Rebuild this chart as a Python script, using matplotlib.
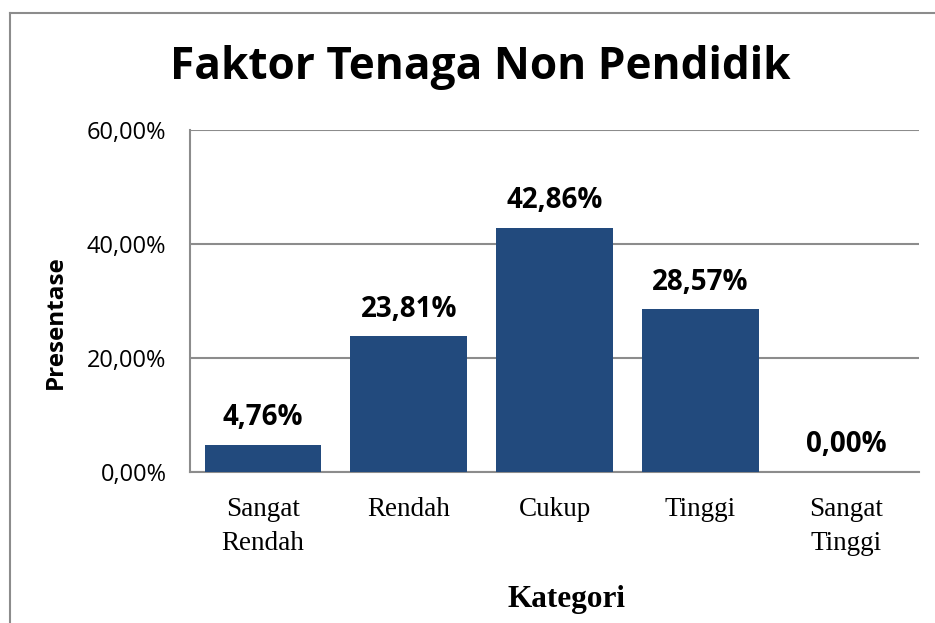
import matplotlib
matplotlib.use("Agg")
import matplotlib.pyplot as plt
from matplotlib.lines import Line2D

categories = ["Sangat\nRendah", "Rendah", "Cukup", "Tinggi", "Sangat\nTinggi"]
values = [4.76, 23.81, 42.86, 28.57, 0.00]
labels = ["4,76%", "23,81%", "42,86%", "28,57%", "0,00%"]
yticks = [0, 20, 40, 60]
ytick_labels = ["0,00%", "20,00%", "40,00%", "60,00%"]

W, H = 935, 623
fig = plt.figure(figsize=(W / 100, H / 100), dpi=100)
fig.patch.set_facecolor("white")

# outer frame (left and top edges only visible)
fx, fy = 9.5 / W, 1 - 12.5 / H
fig.add_artist(Line2D([fx, fx], [-0.05, fy], transform=fig.transFigure,
                      color="#8c8c8c", linewidth=1.5))
fig.add_artist(Line2D([fx, 1.05], [fy, fy], transform=fig.transFigure,
                      color="#8c8c8c", linewidth=1.5))

ax = fig.add_axes([190 / W, 1 - 472 / H, (919 - 190) / W, (472 - 130) / H])
x = list(range(len(categories)))
ax.bar(x, values, width=0.8, color="#224A7D", zorder=3)
ax.set_xlim(-0.5, len(categories) - 0.5)
ax.set_ylim(0, 60)
ax.set_yticks(yticks)
ax.set_yticklabels(ytick_labels, fontfamily="Open Sans", fontsize=17)
ax.set_xticks(x)
ax.set_xticklabels(categories, fontfamily="Liberation Serif", fontsize=19.5, linespacing=1.45)
ax.tick_params(axis="both", length=0)
ax.tick_params(axis="y", pad=17)
ax.tick_params(axis="x", pad=18)
ax.yaxis.grid(True, color="#8c8c8c", linewidth=1.5, zorder=0)
for s in ["top", "right"]:
    ax.spines[s].set_visible(False)
for s in ["left", "bottom"]:
    ax.spines[s].set_color("#8c8c8c")
    ax.spines[s].set_linewidth(1.5)

for xi, v, lab in zip(x, values, labels):
    ax.annotate(lab, (xi, v), xytext=(0, 9), textcoords="offset points",
                ha="center", va="bottom", fontfamily="Open Sans", fontweight="bold",
                fontsize=20)

fig.text(480 / W, 1 - 67 / H, "Faktor Tenaga Non Pendidik", ha="center", va="center",
         fontfamily="Open Sans", fontweight="bold", fontsize=31.8)
fig.text(56 / W, 1 - 322 / H, "Presentase", rotation=90, ha="center", va="center",
         fontfamily="Open Sans", fontweight="bold", fontsize=17.5)
fig.text(567 / W, 1 - 600 / H, "Kategori", ha="center", va="center",
         fontfamily="Liberation Serif", fontweight="bold", fontsize=22.5)

fig.savefig("out.png", dpi=100, facecolor="white")
